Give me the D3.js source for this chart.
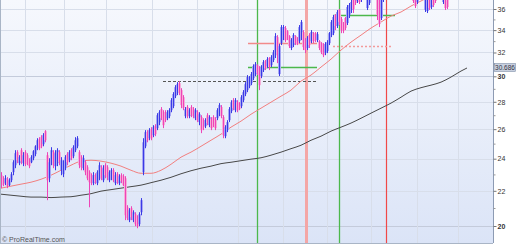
<!DOCTYPE html>
<html>
<head>
<meta charset="utf-8">
<script src="https://cdn.jsdelivr.net/npm/d3@7"></script>
<style>
  body { margin: 0; background: #fff; }
  svg { display: block; font-family: "Liberation Sans", Arial, sans-serif; }
</style>
</head>
<body>
<svg id="chart"></svg>
<script>
// daily bars (prices above ~36.9 fall outside the view)
const opens = [
  22.95,22.76,22.46,22.70,22.34,22.64,23.14,23.58,24.43,23.71,
  24.56,23.71,24.43,24.23,23.90,23.77,24.03,24.30,24.69,25.30,
  25.44,24.96,25.86,24.23,22.76,23.71,24.43,23.52,23.71,24.43,
  23.26,23.01,23.39,24.30,23.90,24.56,24.16,24.56,24.82,24.43,
  24.10,23.39,23.77,23.45,23.14,22.95,22.46,22.95,22.46,22.76,
  23.45,22.64,23.58,23.45,22.64,22.76,23.26,22.46,23.01,22.46,
  22.95,22.89,22.76,21.04,20.32,20.99,20.32,20.65,20.48,20.10,
  20.76,23.14,24.82,25.79,25.37,26.00,25.58,26.21,26.07,26.50,
  27.45,27.22,27.22,26.78,26.93,27.37,27.67,28.43,28.67,29.45,
  28.90,28.35,26.93,27.60,26.93,27.60,27.45,26.78,27.22,26.50,
  26.86,26.64,26.21,27.00,26.28,26.71,26.86,26.71,26.78,27.07,
  27.60,26.86,25.51,25.93,26.64,27.30,28.12,27.37,27.97,27.90,
  27.67,28.12,28.59,28.90,29.21,29.45,29.85,30.18,30.92,30.51,
  30.02,30.51,31.26,30.84,31.52,30.92,31.35,31.77,33.36,30.18,
  32.82,33.27,34.19,33.91,33.45,32.39,32.65,33.45,33.27,33.00,
  33.27,33.82,33.09,32.39,33.54,33.00,33.72,33.72,33.09,33.00,
  32.82,32.74,31.95,32.12,32.82,33.54,33.72,35.42,34.38,35.90,
  35.04,34.66,35.13,34.66,35.42,35.90,36.99,37.09,36.79,37.39,
  36.89,37.29,38.11,36.09,36.59,38.11,37.49,38.11,37.70,36.89,
  35.13,36.89,37.70,38.90,38.40,38.80,39.60,39.30,38.80,39.70,
  39.40,38.50,39.00,38.60,37.90,38.40,37.49,37.29,36.69,37.49,
  38.31,37.29,35.90,35.80,37.20,36.19,37.29,37.70,37.39,38.31,
  37.29,36.69,37.20,37.29,37.40,37.80,38.70,38.20,38.70,39.60,
  39.10,40.00,39.40,39.70
];
const highs = [
  23.14,22.89,22.95,22.83,22.76,23.14,23.90,24.56,24.56,24.23,
  24.69,24.43,24.56,24.36,24.03,24.23,24.56,24.89,25.37,25.44,
  25.58,25.72,25.93,24.43,24.03,24.76,24.56,24.56,24.69,24.56,
  24.10,23.90,24.23,24.43,24.56,24.69,24.89,25.44,25.51,24.56,
  24.23,24.23,23.90,23.58,23.26,23.07,23.14,23.07,23.26,23.77,
  23.58,23.58,23.71,23.58,23.26,23.39,23.39,23.14,23.14,23.01,
  23.07,23.01,22.89,21.16,20.99,21.10,20.87,20.76,20.59,20.76,
  21.57,25.37,25.93,25.93,26.07,26.14,26.28,26.35,27.15,27.37,
  27.60,27.37,27.37,27.37,27.52,28.28,28.74,29.29,29.53,29.61,
  29.05,28.51,27.60,27.75,27.52,27.75,27.60,27.52,27.37,27.22,
  27.00,26.78,26.78,27.15,27.00,26.86,27.00,26.86,27.52,27.90,
  27.75,27.00,26.28,26.64,27.60,28.12,28.28,28.28,28.12,27.97,
  28.51,28.90,29.53,30.10,30.02,30.35,30.99,31.18,30.99,30.84,
  30.92,31.35,31.35,31.60,31.60,31.77,32.21,33.72,33.54,32.74,
  34.47,34.47,34.38,34.00,33.54,33.27,33.72,33.54,33.36,34.47,
  34.94,34.00,33.27,33.45,33.72,34.00,33.82,33.82,33.82,33.09,
  32.91,32.82,32.91,33.09,33.82,34.94,35.42,35.51,35.90,36.00,
  35.23,34.75,35.23,36.39,36.59,36.89,37.20,37.29,37.49,37.49,
  37.70,38.11,38.31,37.90,38.11,38.31,38.52,38.31,37.90,37.39,
  37.70,38.31,38.73,39.00,39.30,39.60,39.80,39.50,39.70,39.90,
  39.60,39.40,39.20,38.80,38.90,38.60,37.70,37.49,37.90,38.31,
  38.52,38.11,37.49,37.70,37.49,37.70,37.49,37.90,38.31,38.52,
  38.11,37.90,37.39,37.49,38.30,38.70,38.90,39.20,39.60,39.80,
  40.10,40.20,40.40,40.60
];
const lows = [
  22.16,22.28,22.34,22.16,22.28,22.52,22.95,23.39,23.71,23.58,
  23.64,23.52,23.52,23.58,23.39,23.71,23.90,24.16,24.56,24.56,
  24.69,24.82,25.09,21.45,22.52,23.58,23.39,23.26,23.52,23.58,
  22.95,22.83,23.26,23.58,23.77,23.90,24.03,24.43,24.69,23.39,
  23.26,23.26,22.95,22.64,21.04,22.34,22.34,22.40,22.34,22.64,
  22.64,22.52,22.76,22.64,22.52,22.64,22.52,22.34,22.40,22.34,
  22.46,22.28,20.32,20.32,20.21,20.32,20.21,19.99,19.88,19.99,
  20.59,22.95,24.69,25.09,25.23,25.23,25.44,25.51,25.93,26.28,
  26.64,26.07,26.50,26.64,26.78,27.22,27.52,28.28,28.51,28.51,
  27.52,27.37,26.78,26.78,26.78,26.86,26.78,26.64,26.50,26.28,
  25.72,25.93,26.07,26.28,26.14,25.93,26.14,25.93,26.64,26.93,
  26.78,25.37,25.37,25.79,26.50,27.15,27.37,27.22,27.22,27.37,
  27.52,27.97,28.43,28.74,29.05,29.29,29.69,30.02,30.10,28.90,
  29.85,30.35,30.51,30.67,30.51,30.76,31.18,31.52,31.09,30.02,
  32.65,33.09,32.91,33.09,32.39,32.21,32.47,32.65,32.65,32.82,
  33.09,32.21,31.95,32.21,32.39,32.82,32.82,32.91,32.91,32.21,
  31.86,31.60,31.77,31.95,32.65,33.36,33.54,34.00,34.19,34.47,
  33.72,33.72,34.00,34.47,35.13,35.61,35.61,36.39,36.59,36.49,
  36.69,37.09,37.29,35.90,36.39,37.09,37.29,36.89,34.94,34.28,
  34.94,36.69,37.49,38.20,38.30,38.70,38.90,38.60,38.70,39.00,
  38.60,38.40,38.10,37.80,37.70,37.50,36.59,36.09,36.49,37.29,
  37.39,37.09,35.71,35.61,35.90,35.99,36.19,36.59,37.20,37.39,
  37.09,36.49,35.90,35.99,37.30,37.70,38.00,38.10,38.60,38.90,
  39.00,39.20,39.30,39.60
];
const closes = [
  22.34,22.40,22.76,22.28,22.64,23.01,23.77,24.36,23.90,24.10,
  23.84,24.23,23.64,23.71,23.52,24.10,24.49,24.82,25.23,24.69,
  24.82,25.58,25.23,22.64,23.77,24.56,23.58,24.36,24.56,23.77,
  23.90,23.71,24.10,23.77,24.43,24.03,24.76,25.23,25.37,23.58,
  23.45,24.03,23.14,22.76,22.52,22.46,22.95,22.52,23.14,23.58,
  22.76,23.39,22.95,22.83,23.14,23.26,22.64,22.95,22.52,22.89,
  22.58,22.34,20.59,20.43,20.87,20.48,20.76,20.10,19.99,20.65,
  21.45,25.09,25.79,25.23,25.93,25.37,26.14,25.65,27.00,27.22,
  26.78,26.28,26.64,27.22,27.37,28.12,28.59,29.13,29.37,28.67,
  27.75,27.52,27.45,26.93,27.37,27.00,26.93,27.37,26.64,27.07,
  25.93,26.14,26.64,26.43,26.86,26.07,26.28,26.07,27.37,27.75,
  26.93,25.58,26.14,26.50,27.45,27.97,27.52,28.12,27.37,27.45,
  28.35,28.74,29.37,29.94,29.94,30.18,30.84,30.99,30.26,29.29,
  30.76,31.18,30.67,31.43,30.76,31.60,32.04,33.45,31.77,32.56,
  34.28,34.28,33.09,33.27,32.56,33.09,33.54,32.82,32.74,34.28,
  34.75,32.47,32.21,33.27,32.65,33.82,33.00,33.09,33.63,32.39,
  32.04,31.77,32.74,32.91,33.72,34.75,35.23,34.38,35.71,34.75,
  34.00,33.91,34.19,36.19,36.39,36.69,35.99,36.59,37.29,36.69,
  37.49,37.90,37.49,37.70,37.90,37.29,38.31,37.20,35.42,34.56,
  37.39,38.11,38.52,38.40,39.10,39.40,39.00,38.80,39.50,39.20,
  38.80,39.20,38.30,38.00,38.70,37.70,36.79,36.29,37.70,38.11,
  37.60,37.90,37.29,37.39,36.09,37.49,36.39,36.79,38.11,37.60,
  37.90,37.70,36.09,36.19,38.10,38.50,38.20,39.00,39.40,39.10,
  39.90,39.40,40.20,40.40
];

// moving averages, read every 5 bars
const maIdx = [0,5,10,15,20,25,30,35,40,45,50,55,60,65,70,75,80,85,90,95,
  100,105,110,115,120,125,130,135,140,145,150,155,160,165,170,175,180,185,190,195,
  200,205,210,215,220,225,230,233];
const maShort = [22.16,22.28,22.40,22.52,22.70,22.95,23.26,23.58,23.84,23.90,
  23.84,23.71,23.52,23.26,23.07,23.07,23.26,23.64,24.10,24.43,
  24.82,25.23,25.65,26.14,26.57,27.07,27.52,27.97,28.43,28.90,
  29.61,30.10,30.76,31.43,32.21,32.91,33.54,34.19,34.75,35.32,
  35.71,36.29,36.79,37.29,37.69,38.11,38.52,38.73];
const maLong = [21.80,21.74,21.68,21.63,21.63,21.60,21.63,21.65,21.74,21.83,
  21.98,22.07,22.16,22.25,22.34,22.49,22.64,22.82,23.04,23.23,
  23.39,23.52,23.68,23.77,23.87,23.97,24.06,24.23,24.43,24.66,
  24.89,25.23,25.51,25.86,26.14,26.43,26.78,27.15,27.52,27.90,
  28.35,28.82,29.09,29.29,29.53,29.94,30.43,30.686];

// axis ticks
const yTicks = [20, 22, 24, 26, 28, 30, 32, 34, 36];
const yMinor = [21, 23, 25, 27, 29, 31, 33, 35];
// month boundaries (bar index)
const monthIdx = [12, 31.5, 52.5, 75.5, 98, 118.5, 141, 163, 185, 208, 228.5];

// trade signals (bar index)
const signalIdx = [128, 152.5, 169, 192.5];
const signalType = ["buy", "sell", "buy", "stop"];

// horizontal levels
const levelPrice = [29.62, 32.85, 30.78, 35.44, 32.59];
const levelFrom = [81, 123.5, 123.5, 166, 166];
const levelTo = [158.5, 158, 158, 197, 196];
const levelType = ["prevHigh", "high", "low", "low", "target"];

const W = 520, H = 245;
const plot = { left: 1, right: 493, top: 0, bottom: 243 };

const svg = d3.select("#chart").attr("width", W).attr("height", H);
const defs = svg.append("defs");
const grad = defs.append("linearGradient").attr("id", "bg")
  .attr("x1", 0).attr("y1", 0).attr("x2", 0).attr("y2", 1);
grad.append("stop").attr("offset", "0%").attr("stop-color", "#f6f8fd");
grad.append("stop").attr("offset", "100%").attr("stop-color", "#dbe4f7");
defs.append("clipPath").attr("id", "clip").append("rect")
  .attr("x", plot.left).attr("y", plot.top)
  .attr("width", plot.right - plot.left).attr("height", plot.bottom - plot.top);

svg.append("rect").attr("width", W).attr("height", H).attr("fill", "#fff");
svg.append("rect")
  .attr("x", plot.left).attr("y", plot.top)
  .attr("width", plot.right - plot.left).attr("height", plot.bottom - plot.top)
  .attr("fill", "url(#bg)");

// scales
const x = d3.scaleLinear().domain([0, 233]).range([1, 467]);
const y = d3.scaleLog().domain([19.10, 36.89]).range([plot.bottom, plot.top]);
const px = v => Math.round(v) + 0.5;

const g = svg.append("g").attr("clip-path", "url(#clip)");

// grid
g.selectAll(".hgrid").data(yTicks).enter().append("line")
  .attr("x1", plot.left).attr("x2", plot.right)
  .attr("y1", d => px(y(d))).attr("y2", d => px(y(d)))
  .attr("stroke", d => d % 10 === 0 ? "#c4cbdb" : "#d8deea")
  .attr("stroke-width", 1);
g.selectAll(".vgrid").data(monthIdx).enter().append("line")
  .attr("x1", d => px(x(d))).attr("x2", d => px(x(d)))
  .attr("y1", plot.top).attr("y2", plot.bottom)
  .attr("stroke", "#d8deea").attr("stroke-width", 1);

// signal verticals
const sigStyle = {
  buy: { c: "#4cb84c", w: 1.3 },
  sell: { c: "#f4a6a6", w: 3 },
  stop: { c: "#f04848", w: 1.2 }
};
g.selectAll(".sig").data(signalIdx).enter().append("line")
  .attr("x1", d => px(x(d))).attr("x2", d => px(x(d)))
  .attr("y1", plot.top).attr("y2", plot.bottom)
  .attr("stroke", (d, i) => sigStyle[signalType[i]].c)
  .attr("stroke-width", (d, i) => sigStyle[signalType[i]].w);

// horizontal levels
const lvStyle = {
  prevHigh: { c: "#555", w: 1, dash: "3,2" },
  high: { c: "#f28a8a", w: 1.6, dash: null },
  low: { c: "#4cb84c", w: 1.3, dash: null },
  target: { c: "#f39a9a", w: 1.6, dash: "2,2" }
};
g.selectAll(".lvl").data(levelPrice).enter().append("line")
  .attr("x1", (d, i) => x(levelFrom[i])).attr("x2", (d, i) => x(levelTo[i]))
  .attr("y1", d => px(y(d))).attr("y2", d => px(y(d)))
  .attr("stroke", (d, i) => lvStyle[levelType[i]].c)
  .attr("stroke-width", (d, i) => lvStyle[levelType[i]].w)
  .attr("stroke-dasharray", (d, i) => lvStyle[levelType[i]].dash);

// moving averages
const line = d3.line()
  .x(d => x(d[0])).y(d => y(d[1]))
  .curve(d3.curveMonotoneX);
g.append("path")
  .datum(maIdx.map((d, i) => [d, maLong[i]]))
  .attr("d", line).attr("fill", "none")
  .attr("stroke", "#484848").attr("stroke-width", 1);
g.append("path")
  .datum(maIdx.map((d, i) => [d, maShort[i]]))
  .attr("d", line).attr("fill", "none")
  .attr("stroke", "#f27f7f").attr("stroke-width", 1);

// bars
const bars = d3.range(opens.length);
const up = i => closes[i] >= opens[i];
g.selectAll(".body").data(bars).enter().append("rect")
  .attr("x", i => Math.round(x(i)) - 1)
  .attr("width", 3)
  .attr("y", i => y(Math.max(opens[i], closes[i])))
  .attr("height", i => Math.max(1, y(Math.min(opens[i], closes[i])) - y(Math.max(opens[i], closes[i]))))
  .attr("fill", i => up(i) ? "#a8a8f4" : "#f6aed9");
g.selectAll(".wick").data(bars).enter().append("line")
  .attr("x1", i => px(x(i))).attr("x2", i => px(x(i)))
  .attr("y1", i => y(highs[i])).attr("y2", i => y(lows[i]))
  .attr("stroke", i => up(i) ? "#3a3ae6" : "#ee44b8")
  .attr("stroke-width", 1);

// frame
svg.append("line").attr("x1", 0.5).attr("x2", 0.5).attr("y1", 0).attr("y2", plot.bottom)
  .attr("stroke", "#a9b5c6");
svg.append("line").attr("x1", 0).attr("x2", plot.right).attr("y1", plot.bottom + 0.5).attr("y2", plot.bottom + 0.5)
  .attr("stroke", "#a9b5c6");

// right axis
const axis = svg.append("g").attr("transform", "translate(" + (plot.right + 0.5) + ",0)");
axis.call(d3.axisRight(y).tickValues(yTicks).tickSize(3).tickPadding(1).tickFormat(d3.format("d")));
axis.select(".domain").attr("stroke", "#8d9bb3").attr("d", "M0," + plot.top + "V" + plot.bottom);
axis.selectAll(".tick line").attr("stroke", "#777");
axis.selectAll(".tick text")
  .attr("fill", "#333").style("font-size", "7px")
  .style("font-weight", d => d % 10 === 0 ? "bold" : "normal");
const minor = svg.append("g").attr("transform", "translate(" + (plot.right + 0.5) + ",0)");
minor.call(d3.axisRight(y).tickValues(yMinor).tickSize(2).tickFormat(""));
minor.select(".domain").remove();
minor.selectAll(".tick line").attr("stroke", "#999");

// last value of the long average
const last = maLong[maLong.length - 1];
const ly = y(last);
svg.append("rect")
  .attr("x", plot.right + 1.5).attr("y", ly - 4.5)
  .attr("width", 21).attr("height", 8)
  .attr("fill", "#c8d0df").attr("stroke", "#8090aa").attr("stroke-width", 0.6);
svg.append("text")
  .attr("x", plot.right + 12).attr("y", ly + 2.2)
  .attr("text-anchor", "middle")
  .attr("fill", "#334")
  .style("font-size", "6.5px")
  .text(d3.format(".3f")(last));

// watermark
svg.append("text")
  .attr("x", 2).attr("y", 242)
  .attr("fill", "#555")
  .style("font-size", "7px")
  .text("© ProRealTime.com");
</script>
</body>
</html>
